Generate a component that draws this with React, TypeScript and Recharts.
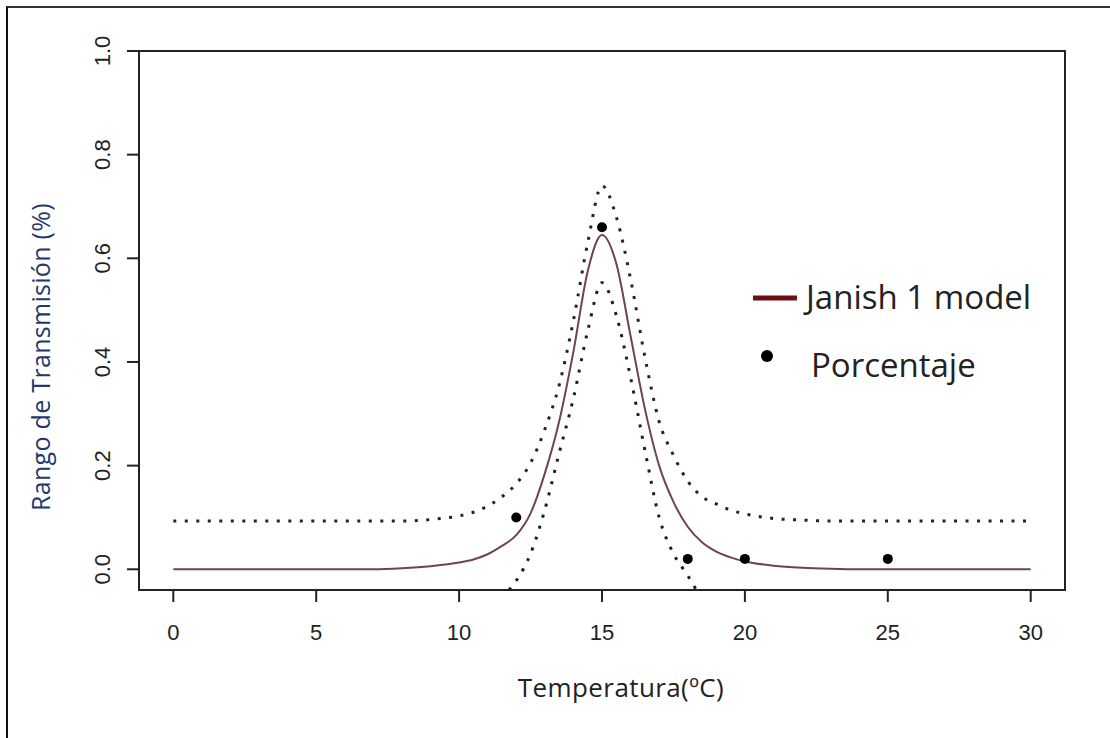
import {
  ComposedChart,
  Line,
  Scatter,
  XAxis,
  YAxis,
  ReferenceArea,
  Label,
} from 'recharts';

// Janisch 1 model fit of transmission rate vs temperature
const modelTemps = [
  0, 1, 2, 3, 4, 5, 6, 7, 8, 9, 10, 10.5, 11, 11.5, 12, 12.5, 13, 13.5, 14, 14.5, 15,
  15.5, 16, 16.5, 17, 17.5, 18, 18.5, 19, 19.5, 20, 21, 22, 23, 24, 25, 26, 27, 28, 29, 30,
];
const modelRate = [
  0, 0, 0, 0, 0, 0, 0, 0, 0.002, 0.006, 0.013, 0.019, 0.029, 0.045, 0.066, 0.108, 0.185,
  0.285, 0.42, 0.575, 0.645, 0.59, 0.45, 0.31, 0.2, 0.13, 0.082, 0.052, 0.034, 0.023, 0.015,
  0.007, 0.003, 0.001, 0, 0, 0, 0, 0, 0, 0,
];

// upper confidence band (dotted)
const upperRate = [
  0.093, 0.093, 0.093, 0.093, 0.093, 0.093, 0.093, 0.093, 0.093, 0.096, 0.103, 0.11, 0.122,
  0.14, 0.165, 0.205, 0.27, 0.355, 0.48, 0.63, 0.74, 0.68, 0.56, 0.41, 0.285, 0.22, 0.17,
  0.14, 0.126, 0.114, 0.107, 0.098, 0.095, 0.093, 0.093, 0.093, 0.093, 0.093, 0.093, 0.093, 0.093,
];

// lower confidence band (dotted, clipped at the bottom of the plot)
const lowerTemps = [11.75, 12, 12.5, 13, 13.5, 14, 14.5, 15, 15.5, 16, 16.5, 17, 17.5, 18, 18.3];
const lowerRate = [-0.04, -0.022, 0.03, 0.115, 0.224, 0.33, 0.46, 0.553, 0.49, 0.37, 0.23, 0.1, 0.03, -0.012, -0.04];

// observed percentages
const obsTemps = [12, 15, 18, 20, 25];
const obsRate = [0.1, 0.66, 0.02, 0.02, 0.02];

const xTicks = [0, 5, 10, 15, 20, 25, 30];
const yTicks = [0, 0.2, 0.4, 0.6, 0.8, 1.0];

const toRows = (ts: number[], vs: number[]) => ts.map((t, i) => ({ t, v: vs[i] }));

const modelData = toRows(modelTemps, modelRate);
const upperData = toRows(modelTemps, upperRate);
const lowerData = toRows(lowerTemps, lowerRate);
const obsData = toRows(obsTemps, obsRate);

const INK = '#222';
const SANS = "'Liberation Sans', Arial, sans-serif";

function YTick(props: any) {
  const { x, y, payload } = props;
  return (
    <text
      x={x}
      y={y}
      transform={`rotate(-90 ${x} ${y})`}
      textAnchor="middle"
      fill={INK}
      fontSize={22}
      fontFamily={SANS}
    >
      {Number(payload.value).toFixed(1)}
    </text>
  );
}

function YTitle() {
  return (
    <text
      x={50}
      y={357}
      transform="rotate(-90 50 357)"
      textAnchor="middle"
      fill="#22396a"
      fontSize={25}
      letterSpacing={0.3}
      fontFamily="'Open Sans', sans-serif"
    >
      Rango de Transmisión (%)
    </text>
  );
}

function XTitle() {
  return (
    <text
      x={621}
      y={697}
      textAnchor="middle"
      fill={INK}
      fontSize={26}
      letterSpacing={0.4}
      fontFamily="'Open Sans', sans-serif"
    >
      Temperatura(ºC)
    </text>
  );
}

export default function App() {
  return (
    <div
      style={{
        position: 'absolute',
        left: 0,
        top: 0,
        width: 1110,
        height: 738,
        background: '#fff',
        overflow: 'hidden',
      }}
    >
      {/* frame of the pasted figure: only left and top edges show */}
      <div
        style={{
          position: 'absolute',
          left: 6,
          top: 6,
          width: 1110,
          height: 738,
          borderLeft: '2.5px solid #111',
          borderTop: '2px solid #333',
        }}
      />
      <ComposedChart
        width={1110}
        height={738}
        margin={{ top: 51, right: 45, bottom: 88, left: 20 }}
        style={{ position: 'absolute', left: 0, top: 0 }}
      >
        <XAxis
          type="number"
          dataKey="t"
          domain={[-1.2, 31.2]}
          allowDataOverflow
          ticks={xTicks}
          interval={0}
          height={60}
          axisLine={false}
          tickLine={{ stroke: INK, strokeWidth: 2 }}
          tickSize={12}
          tickMargin={22}
          tick={{ fill: INK, fontSize: 22, fontFamily: SANS }}
        >
          <Label content={<XTitle />} />
        </XAxis>
        <YAxis
          type="number"
          dataKey="v"
          domain={[-0.04, 1]}
          allowDataOverflow
          ticks={yTicks}
          interval={0}
          width={119}
          axisLine={false}
          tickLine={{ stroke: INK, strokeWidth: 2 }}
          tickSize={12}
          tickMargin={17}
          tick={<YTick />}
        >
          <Label content={<YTitle />} />
        </YAxis>

        {/* R-style box around the plotting region */}
        <ReferenceArea
          x1={-1.2}
          x2={31.2}
          y1={-0.04}
          y2={1}
          fill="none"
          fillOpacity={0}
          stroke={INK}
          strokeWidth={2}
          ifOverflow="visible"
        />

        <Line
          data={upperData}
          dataKey="v"
          type="monotone"
          stroke="#2a2222"
          strokeWidth={3}
          strokeDasharray="3 8.5"
          dot={false}
          activeDot={false}
          isAnimationActive={false}
        />
        <Line
          data={lowerData}
          dataKey="v"
          type="monotone"
          stroke="#1e1e1e"
          strokeWidth={3}
          strokeDasharray="3 8.5"
          dot={false}
          activeDot={false}
          isAnimationActive={false}
        />
        <Line
          data={modelData}
          dataKey="v"
          type="monotone"
          stroke="#6e4646"
          strokeWidth={2}
          dot={false}
          activeDot={false}
          isAnimationActive={false}
        />
        <Scatter
          data={obsData}
          dataKey="v"
          fill="#000"
          isAnimationActive={false}
          shape={(p: any) => <circle cx={p.cx} cy={p.cy} r={5} fill="#000" />}
        />
      </ComposedChart>

      {/* legend placed inside the plot, as in the original */}
      <div
        style={{
          position: 'absolute',
          left: 750,
          top: 274,
          fontFamily: "'Open Sans', sans-serif",
          fontSize: 33,
          color: INK,
          lineHeight: '44px',
        }}
      >
        <div style={{ display: 'flex', alignItems: 'center', height: 46 }}>
          <svg width={56} height={46}>
            <line x1={3} y1={24} x2={47} y2={24} stroke="#6a1014" strokeWidth={5} />
          </svg>
          <span>Janish 1 model</span>
        </div>
        <div style={{ display: 'flex', alignItems: 'center', height: 46, marginTop: 22 }}>
          <svg width={61} height={46}>
            <circle cx={17} cy={14} r={6} fill="#000" />
          </svg>
          <span>Porcentaje</span>
        </div>
      </div>
    </div>
  );
}
